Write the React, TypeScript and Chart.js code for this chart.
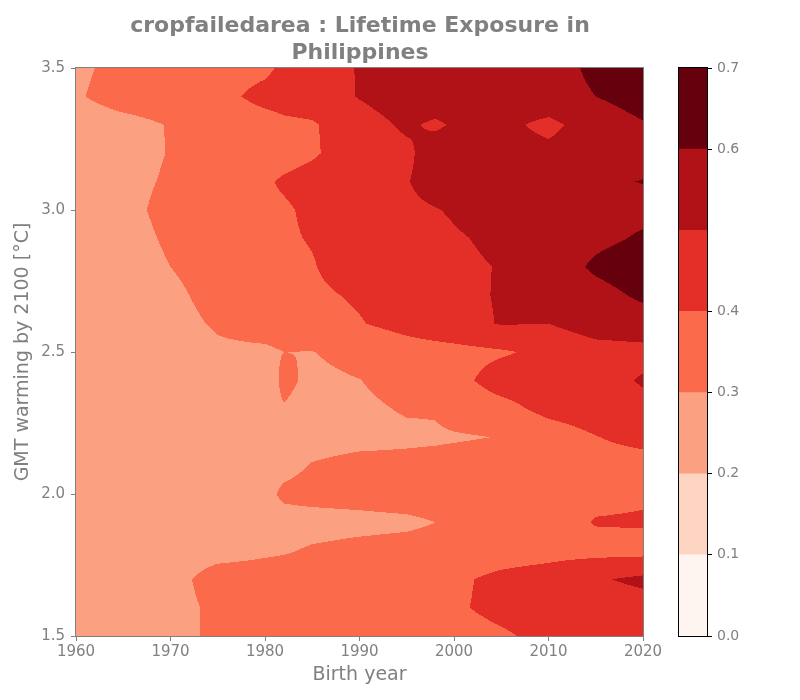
import React, { useEffect, useRef } from "react";
import { Chart, registerables } from "chart.js";

Chart.register(...registerables);
Chart.defaults.font.family = "'DejaVu Sans', sans-serif";

// Birth years (columns) and GMT warming levels (rows, bottom → top)
const birthYears = [1960, 1965, 1970, 1975, 1980, 1982, 1985, 1990, 1995, 1998, 2000, 2005, 2010, 2015, 2020];
const gmtLevels = [1.5, 1.6, 1.7, 1.8, 1.9, 2.0, 2.1, 2.2, 2.3, 2.4, 2.5, 2.6, 2.7, 2.8, 2.9, 3.0, 3.1, 3.2, 3.3, 3.4, 3.5];

// Lifetime exposure (fraction) — one row per GMT level, one value per birth year
const exposure = [
  [0.21, 0.22, 0.25, 0.33, 0.35, 0.35, 0.35, 0.35, 0.36, 0.365, 0.37, 0.39, 0.42, 0.43, 0.44], // 1.5
  [0.21, 0.22, 0.25, 0.33, 0.35, 0.35, 0.35, 0.35, 0.36, 0.375, 0.39, 0.42, 0.44, 0.45, 0.46], // 1.6
  [0.21, 0.22, 0.25, 0.36, 0.36, 0.36, 0.36, 0.36, 0.37, 0.38, 0.385, 0.42, 0.44, 0.49, 0.52], // 1.7
  [0.21, 0.22, 0.23, 0.25, 0.28, 0.29, 0.312, 0.33, 0.34, 0.345, 0.35, 0.36, 0.37, 0.37, 0.37], // 1.8
  [0.21, 0.22, 0.23, 0.24, 0.25, 0.26, 0.26, 0.27, 0.28, 0.3, 0.31, 0.33, 0.36, 0.405, 0.408], // 1.9
  [0.21, 0.22, 0.23, 0.24, 0.27, 0.32, 0.334, 0.34, 0.35, 0.35, 0.35, 0.36, 0.37, 0.38, 0.39], // 2.0
  [0.21, 0.22, 0.23, 0.24, 0.26, 0.27, 0.306, 0.33, 0.33, 0.335, 0.34, 0.35, 0.35, 0.36, 0.36], // 2.1
  [0.21, 0.22, 0.23, 0.24, 0.25, 0.26, 0.26, 0.27, 0.28, 0.285, 0.29, 0.303, 0.35, 0.397, 0.43], // 2.2
  [0.21, 0.22, 0.23, 0.24, 0.27, 0.295, 0.27, 0.28, 0.309, 0.31, 0.34, 0.37, 0.427, 0.45, 0.47], // 2.3
  [0.21, 0.22, 0.23, 0.25, 0.25, 0.32, 0.28, 0.298, 0.34, 0.36, 0.37, 0.44, 0.45, 0.46, 0.51], // 2.4
  [0.21, 0.22, 0.24, 0.285, 0.284, 0.3, 0.298, 0.33, 0.36, 0.365, 0.37, 0.39, 0.42, 0.46, 0.47], // 2.5
  [0.22, 0.24, 0.27, 0.31, 0.34, 0.35, 0.37, 0.395, 0.43, 0.455, 0.47, 0.505, 0.5, 0.55, 0.56], // 2.6
  [0.22, 0.25, 0.28, 0.33, 0.36, 0.37, 0.385, 0.41, 0.45, 0.47, 0.48, 0.506, 0.54, 0.57, 0.615], // 2.7
  [0.22, 0.25, 0.3, 0.34, 0.37, 0.38, 0.395, 0.445, 0.47, 0.475, 0.48, 0.505, 0.55, 0.615, 0.65], // 2.8
  [0.23, 0.26, 0.3155, 0.35, 0.38, 0.39, 0.405, 0.43, 0.46, 0.475, 0.49, 0.52, 0.55, 0.58, 0.61], // 2.9
  [0.23, 0.27, 0.33, 0.36, 0.385, 0.39, 0.415, 0.45, 0.48, 0.495, 0.51, 0.55, 0.56, 0.57, 0.58], // 3.0
  [0.24, 0.27, 0.313, 0.35, 0.39, 0.41, 0.43, 0.46, 0.495, 0.54, 0.55, 0.57, 0.57, 0.59, 0.602], // 3.1
  [0.24, 0.26, 0.305, 0.34, 0.36, 0.37, 0.39, 0.445, 0.48, 0.55, 0.55, 0.55, 0.53, 0.56, 0.58], // 3.2
  [0.25, 0.27, 0.305, 0.34, 0.36, 0.38, 0.39, 0.46, 0.515, 0.485, 0.51, 0.53, 0.47, 0.56, 0.595], // 3.3
  [0.29, 0.34, 0.35, 0.37, 0.43, 0.44, 0.45, 0.505, 0.55, 0.555, 0.56, 0.57, 0.58, 0.6, 0.63], // 3.4
  [0.28, 0.33, 0.35, 0.36, 0.38, 0.42, 0.46, 0.505, 0.55, 0.555, 0.56, 0.57, 0.58, 0.61, 0.66], // 3.5
];

const levelBounds = [0, 0.1, 0.2, 0.3, 0.4, 0.5, 0.6, 0.7];
const levelColors = ["#fff5f0", "#fdd4c2", "#fca082", "#fb6a4a", "#e32f27", "#b11218", "#67000d"];
const colorbarTicks = [0, 0.1, 0.2, 0.3, 0.4, 0.6, 0.7];
const xTicks = [1960, 1970, 1980, 1990, 2000, 2010, 2020];
const yTicks = [1.5, 2.0, 2.5, 3.0, 3.5];

const titleLines = ["cropfailedarea : Lifetime Exposure in", "Philippines"];
const xTitle = "Birth year";
const yTitle = "GMT warming by 2100 [°C]";

const GRAY = "#808080";

function locate(arr: number[], v: number): [number, number] {
  let i = 0;
  while (i < arr.length - 2 && v > arr[i + 1]) i++;
  const t = (v - arr[i]) / (arr[i + 1] - arr[i]);
  return [i, Math.max(0, Math.min(1, t))];
}

function sampleExposure(year: number, gmt: number): number {
  const [j, tx] = locate(birthYears, year);
  const [i, ty] = locate(gmtLevels, gmt);
  const a = exposure[i][j], b = exposure[i][j + 1];
  const c = exposure[i + 1][j], d = exposure[i + 1][j + 1];
  return (a * (1 - tx) + b * tx) * (1 - ty) + (c * (1 - tx) + d * tx) * ty;
}

function hexToRgb(h: string): number[] {
  const n = parseInt(h.slice(1), 16);
  return [(n >> 16) & 255, (n >> 8) & 255, n & 255];
}

const contourPlugin = {
  id: "contourFill",
  beforeDatasetsDraw(chart: any) {
    const { ctx, chartArea: a, scales } = chart;
    const xs = scales.x, ys = scales.y;
    const left = Math.round(a.left), top = Math.round(a.top);
    const w = Math.round(a.right) - left, h = Math.round(a.bottom) - top;
    const off = document.createElement("canvas");
    off.width = w; off.height = h;
    const octx = off.getContext("2d")!;
    const img = octx.createImageData(w, h);
    const rgb = levelColors.map(hexToRgb);
    const colVals: number[] = [];
    for (let i = 0; i < w; i++) colVals.push(xs.getValueForPixel(left + i + 0.5));
    for (let j = 0; j < h; j++) {
      const g = ys.getValueForPixel(top + j + 0.5);
      for (let i = 0; i < w; i++) {
        const v = sampleExposure(colVals[i], g);
        let k = 0;
        while (k < levelColors.length - 1 && v >= levelBounds[k + 1]) k++;
        const p = (j * w + i) * 4;
        img.data[p] = rgb[k][0];
        img.data[p + 1] = rgb[k][1];
        img.data[p + 2] = rgb[k][2];
        img.data[p + 3] = 255;
      }
    }
    octx.putImageData(img, 0, 0);
    ctx.drawImage(off, left, top);
  },
};

const makeFrame = (color: string) => ({
  id: "frame",
  afterDraw(chart: any) {
    const { ctx, chartArea: a } = chart;
    ctx.save();
    ctx.strokeStyle = color;
    ctx.lineWidth = 1;
    ctx.strokeRect(a.left - 0.5, a.top - 0.5, a.right - a.left + 1, a.bottom - a.top + 1);
    ctx.restore();
  },
});

export default function App() {
  const mainRef = useRef<HTMLCanvasElement>(null);
  const cbRef = useRef<HTMLCanvasElement>(null);

  useEffect(() => {
    const main = new Chart(mainRef.current!, {
      type: "scatter",
      data: { datasets: [] },
      options: {
        responsive: false,
        animation: false,
        layout: { padding: 0 },
        plugins: {
          legend: { display: false },
          tooltip: { enabled: false },
          title: {
            display: true,
            text: titleLines,
            color: GRAY,
            font: { size: 22, weight: "bold", lineHeight: 1.23 },
            padding: { top: 12.5, bottom: 1.4 },
          },
        },
        scales: {
          x: {
            type: "linear",
            min: 1960,
            max: 2020,
            afterBuildTicks: (s: any) => { s.ticks = xTicks.map((v) => ({ value: v })); },
            ticks: { color: GRAY, font: { size: 15 }, padding: 2, maxRotation: 0, autoSkip: false, callback: (v: any) => String(v) },
            grid: { drawOnChartArea: false, tickLength: 5, color: GRAY },
            border: { display: false },
            title: { display: true, text: xTitle, color: GRAY, font: { size: 19 }, padding: { top: 0, bottom: 13.6 } },
            afterFit: (s: any) => { s.height = 64; },
          },
          y: {
            type: "linear",
            position: "left",
            min: 1.5,
            max: 3.5,
            afterBuildTicks: (s: any) => { s.ticks = yTicks.map((v) => ({ value: v })); },
            ticks: { color: GRAY, font: { size: 15 }, padding: 6, autoSkip: false, callback: (v: any) => Number(v).toFixed(1) },
            grid: { drawOnChartArea: false, tickLength: 5, color: GRAY },
            border: { display: false },
            title: { display: true, text: yTitle, color: GRAY, font: { size: 19 }, padding: { top: 11.6, bottom: 0 } },
            afterFit: (s: any) => { s.width = 76; },
          },
          y2: {
            type: "linear",
            position: "right",
            display: true,
            grid: { display: false },
            ticks: { display: false },
            border: { display: false },
            afterFit: (s: any) => { s.width = 77; },
          },
        },
      } as any,
      plugins: [contourPlugin, makeFrame(GRAY)],
    });

    const cb = new Chart(cbRef.current!, {
      type: "bar",
      data: {
        labels: [""],
        datasets: levelColors.map((c, k) => ({
          data: [[levelBounds[k], levelBounds[k + 1]]],
          backgroundColor: c,
          borderWidth: 0,
          grouped: false,
          barPercentage: 1,
          categoryPercentage: 1,
        })),
      } as any,
      options: {
        responsive: false,
        animation: false,
        layout: { padding: { left: 19, top: 68, bottom: 64, right: 0 } },
        plugins: { legend: { display: false }, tooltip: { enabled: false } },
        scales: {
          x: { display: false },
          y: {
            position: "right",
            min: 0,
            max: 0.7,
            afterBuildTicks: (s: any) => { s.ticks = colorbarTicks.map((v) => ({ value: v })); },
            ticks: { color: GRAY, font: { size: 14 }, padding: 5, autoSkip: false, callback: (v: any) => Number(v).toFixed(1) },
            grid: { drawOnChartArea: false, tickLength: 5, color: "#000000" },
            border: { display: false },
            afterFit: (s: any) => { s.width = 93; },
          },
        },
      } as any,
      plugins: [makeFrame("#000000")],
    });

    return () => {
      main.destroy();
      cb.destroy();
    };
  }, []);

  return (
    <div style={{ position: "absolute", left: 0, top: 0, width: 800, height: 700, background: "#ffffff" }}>
      <canvas ref={mainRef} width={720} height={700} style={{ position: "absolute", left: 0, top: 0 }} />
      <canvas ref={cbRef} width={140} height={700} style={{ position: "absolute", left: 660, top: 0 }} />
    </div>
  );
}
